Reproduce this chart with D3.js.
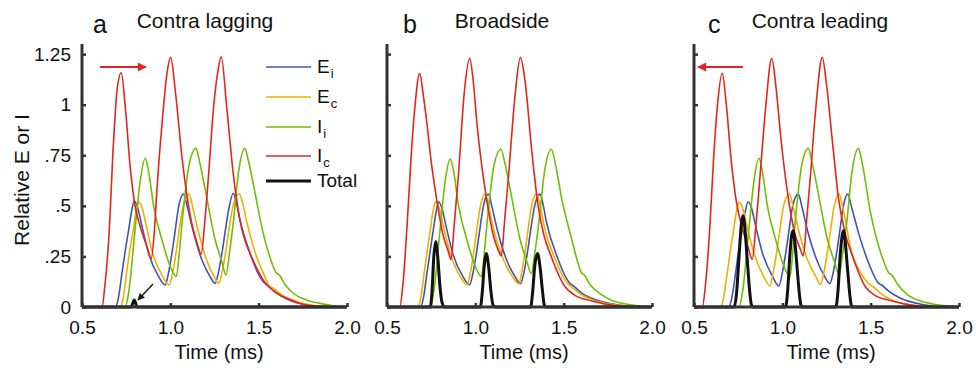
<!DOCTYPE html>
<html>
<head>
<meta charset="utf-8">
<script src="https://cdn.jsdelivr.net/npm/d3@7"></script>
<style>
  body { margin: 0; background: #fff; }
  text { font-family: "Liberation Sans", Arial, sans-serif; fill: #111; }
</style>
</head>
<body>
<script>
// ---- data: [time (ms), relative value] ----

// a  Contra lagging
const ei_a = [[0.5,0],[0.689,0],[0.705,0.04],[0.726,0.166],[0.745,0.28],[0.764,0.38],[0.78,0.47],[0.796,0.525],[0.815,0.49],[0.84,0.397],[0.877,0.265],[0.934,0.15],[0.971,0.109],[0.99,0.17],[1.009,0.265],[1.028,0.38],[1.047,0.496],[1.075,0.558],[1.095,0.5],[1.123,0.397],[1.179,0.232],[1.225,0.15],[1.254,0.117],[1.272,0.17],[1.292,0.265],[1.31,0.37],[1.33,0.48],[1.356,0.562],[1.375,0.51],[1.394,0.43],[1.451,0.266],[1.5,0.16],[1.526,0.125],[1.545,0.11],[1.6,0.07],[1.658,0.04],[1.77,0.01],[1.9,0.001],[2.0,0]];
const ec_a = [[0.5,0],[0.717,0],[0.732,0.04],[0.752,0.166],[0.77,0.28],[0.79,0.38],[0.805,0.47],[0.821,0.52],[0.84,0.49],[0.865,0.397],[0.9,0.265],[0.957,0.15],[0.994,0.109],[1.013,0.17],[1.032,0.265],[1.05,0.38],[1.072,0.496],[1.107,0.558],[1.125,0.5],[1.152,0.397],[1.205,0.232],[1.248,0.15],[1.274,0.117],[1.292,0.17],[1.312,0.265],[1.33,0.37],[1.35,0.48],[1.39,0.56],[1.41,0.51],[1.43,0.43],[1.48,0.27],[1.53,0.16],[1.564,0.1],[1.58,0.095],[1.63,0.06],[1.68,0.04],[1.78,0.012],[1.9,0.001],[2.0,0]];
const ii_a = [[0.5,0],[0.745,0],[0.76,0.05],[0.773,0.13],[0.79,0.29],[0.802,0.397],[0.83,0.627],[0.858,0.735],[0.875,0.68],[0.906,0.496],[0.953,0.33],[1.0,0.2],[1.034,0.15],[1.05,0.26],[1.066,0.413],[1.085,0.57],[1.104,0.693],[1.145,0.784],[1.165,0.72],[1.198,0.578],[1.254,0.331],[1.292,0.224],[1.315,0.158],[1.335,0.27],[1.356,0.413],[1.385,0.66],[1.422,0.784],[1.44,0.73],[1.469,0.61],[1.526,0.364],[1.57,0.23],[1.602,0.166],[1.615,0.16],[1.65,0.11],[1.696,0.068],[1.77,0.035],[1.847,0.018],[1.93,0.005],[2.0,0]];
const ic_a = [[0.5,0],[0.613,0],[0.63,0.11],[0.651,0.33],[0.679,0.825],[0.698,1.07],[0.722,1.158],[0.745,0.99],[0.773,0.69],[0.8,0.5],[0.83,0.397],[0.868,0.298],[0.892,0.24],[0.91,0.38],[0.924,0.578],[0.953,0.907],[0.981,1.155],[1.002,1.234],[1.028,1.07],[1.066,0.74],[1.104,0.495],[1.151,0.315],[1.175,0.262],[1.195,0.42],[1.217,0.66],[1.245,0.99],[1.27,1.17],[1.288,1.237],[1.319,0.99],[1.356,0.66],[1.394,0.43],[1.43,0.31],[1.451,0.265],[1.526,0.133],[1.6,0.07],[1.658,0.043],[1.77,0.01],[1.9,0],[2.0,0]];
const tot_a = [[0.5,0],[0.778,0],[0.796,0.035],[0.812,0],[2.0,0]];

// b  Broadside
const ei_b = [[0.5,0],[0.69,0],[0.705,0.04],[0.726,0.166],[0.745,0.28],[0.762,0.38],[0.778,0.47],[0.792,0.52],[0.81,0.49],[0.835,0.397],[0.872,0.265],[0.93,0.15],[0.968,0.11],[0.987,0.17],[1.006,0.265],[1.025,0.38],[1.045,0.496],[1.074,0.558],[1.093,0.5],[1.12,0.397],[1.177,0.232],[1.225,0.15],[1.255,0.115],[1.275,0.17],[1.294,0.265],[1.313,0.38],[1.335,0.496],[1.366,0.558],[1.385,0.5],[1.4,0.43],[1.47,0.232],[1.51,0.15],[1.536,0.117],[1.555,0.105],[1.6,0.07],[1.659,0.043],[1.81,0.01],[1.92,0.001],[2.0,0]];
const ec_b = [[0.5,0],[0.675,0],[0.69,0.04],[0.71,0.166],[0.728,0.28],[0.745,0.38],[0.76,0.47],[0.775,0.52],[0.795,0.49],[0.82,0.397],[0.858,0.265],[0.915,0.15],[0.955,0.11],[0.972,0.17],[0.99,0.265],[1.008,0.38],[1.028,0.496],[1.055,0.558],[1.075,0.5],[1.1,0.397],[1.16,0.232],[1.21,0.15],[1.246,0.115],[1.262,0.17],[1.28,0.265],[1.298,0.38],[1.318,0.496],[1.347,0.558],[1.367,0.5],[1.39,0.4],[1.46,0.22],[1.5,0.145],[1.528,0.112],[1.545,0.1],[1.59,0.066],[1.65,0.04],[1.8,0.009],[1.92,0.001],[2.0,0]];
const ii_b = [[0.5,0],[0.745,0],[0.76,0.05],[0.773,0.13],[0.79,0.29],[0.802,0.397],[0.83,0.627],[0.858,0.731],[0.875,0.68],[0.906,0.496],[0.953,0.33],[1.0,0.2],[1.034,0.15],[1.05,0.26],[1.066,0.413],[1.085,0.57],[1.104,0.693],[1.145,0.78],[1.165,0.72],[1.198,0.578],[1.254,0.331],[1.292,0.224],[1.317,0.166],[1.337,0.27],[1.36,0.42],[1.39,0.66],[1.431,0.78],[1.45,0.72],[1.49,0.53],[1.547,0.33],[1.58,0.22],[1.603,0.166],[1.615,0.16],[1.65,0.11],[1.716,0.06],[1.78,0.03],[1.85,0.015],[1.95,0.003],[2.0,0]];
const ic_b = [[0.5,0],[0.572,0],[0.59,0.11],[0.62,0.496],[0.64,0.79],[0.658,0.99],[0.685,1.155],[0.705,1.05],[0.726,0.907],[0.75,0.72],[0.773,0.578],[0.82,0.347],[0.845,0.28],[0.863,0.235],[0.88,0.4],[0.905,0.66],[0.937,1.056],[0.968,1.229],[0.99,1.1],[1.009,0.907],[1.056,0.578],[1.104,0.347],[1.13,0.28],[1.147,0.252],[1.165,0.42],[1.189,0.66],[1.226,1.056],[1.255,1.234],[1.281,1.12],[1.319,0.776],[1.356,0.496],[1.39,0.35],[1.423,0.265],[1.508,0.1],[1.56,0.06],[1.659,0.03],[1.81,0.005],[1.9,0],[2.0,0]];
const tot_b = [[0.5,0],[0.745,0],[0.755,0.08],[0.765,0.25],[0.776,0.323],[0.787,0.25],[0.8,0.1],[0.812,0.02],[0.825,0],[1.028,0],[1.04,0.08],[1.05,0.2],[1.062,0.265],[1.075,0.2],[1.088,0.08],[1.1,0.01],[1.113,0],[1.313,0],[1.325,0.08],[1.336,0.2],[1.352,0.265],[1.366,0.2],[1.38,0.08],[1.39,0.01],[1.398,0],[2.0,0]];

// c  Contra leading
const ei_c = [[0.5,0],[0.698,0],[0.713,0.04],[0.735,0.166],[0.753,0.28],[0.772,0.38],[0.79,0.47],[0.806,0.52],[0.825,0.49],[0.85,0.397],[0.888,0.265],[0.945,0.15],[0.981,0.104],[1.0,0.17],[1.019,0.265],[1.038,0.38],[1.058,0.496],[1.09,0.558],[1.11,0.5],[1.137,0.397],[1.195,0.232],[1.24,0.15],[1.269,0.115],[1.288,0.17],[1.307,0.265],[1.326,0.38],[1.345,0.496],[1.371,0.558],[1.39,0.5],[1.432,0.364],[1.489,0.216],[1.545,0.117],[1.56,0.11],[1.6,0.08],[1.658,0.048],[1.81,0.01],[1.92,0.001],[2.0,0]];
const ec_c = [[0.5,0],[0.651,0],[0.666,0.04],[0.688,0.166],[0.706,0.28],[0.724,0.38],[0.74,0.47],[0.755,0.517],[0.775,0.49],[0.8,0.397],[0.84,0.265],[0.895,0.15],[0.93,0.104],[0.948,0.17],[0.967,0.265],[0.986,0.38],[1.006,0.496],[1.041,0.558],[1.06,0.5],[1.087,0.397],[1.143,0.232],[1.19,0.15],[1.216,0.112],[1.235,0.17],[1.254,0.265],[1.273,0.38],[1.293,0.496],[1.322,0.558],[1.34,0.5],[1.394,0.265],[1.45,0.16],[1.498,0.109],[1.515,0.1],[1.56,0.065],[1.62,0.035],[1.77,0.005],[1.9,0],[2.0,0]];
const ii_c = [[0.5,0],[0.755,0],[0.77,0.05],[0.783,0.13],[0.8,0.29],[0.812,0.397],[0.84,0.627],[0.868,0.735],[0.885,0.68],[0.916,0.496],[0.963,0.33],[1.01,0.2],[1.043,0.147],[1.058,0.26],[1.072,0.413],[1.09,0.57],[1.108,0.693],[1.147,0.784],[1.167,0.72],[1.2,0.578],[1.256,0.331],[1.295,0.224],[1.322,0.158],[1.342,0.27],[1.364,0.413],[1.393,0.66],[1.431,0.784],[1.45,0.72],[1.5,0.463],[1.558,0.265],[1.605,0.166],[1.618,0.16],[1.65,0.115],[1.71,0.06],[1.78,0.03],[1.85,0.015],[1.95,0.003],[2.0,0]];
const ic_c = [[0.5,0],[0.547,0],[0.565,0.11],[0.59,0.4],[0.61,0.72],[0.633,1.0],[0.66,1.155],[0.683,1.0],[0.71,0.73],[0.74,0.52],[0.77,0.4],[0.805,0.3],[0.83,0.235],[0.85,0.4],[0.875,0.66],[0.907,1.0],[0.94,1.229],[0.965,1.08],[0.99,0.85],[1.03,0.56],[1.075,0.35],[1.1,0.29],[1.119,0.252],[1.137,0.42],[1.16,0.66],[1.19,0.99],[1.226,1.234],[1.25,1.1],[1.281,0.84],[1.319,0.53],[1.36,0.35],[1.395,0.257],[1.47,0.1],[1.52,0.06],[1.62,0.03],[1.77,0.005],[1.9,0],[2.0,0]];
const tot_c = [[0.5,0],[0.727,0],[0.74,0.06],[0.755,0.25],[0.768,0.41],[0.777,0.451],[0.787,0.4],[0.8,0.25],[0.815,0.08],[0.825,0.01],[0.833,0],[1.018,0],[1.03,0.08],[1.042,0.25],[1.052,0.35],[1.06,0.377],[1.07,0.33],[1.083,0.2],[1.097,0.06],[1.105,0.01],[1.112,0],[1.303,0],[1.315,0.08],[1.327,0.25],[1.338,0.35],[1.345,0.377],[1.355,0.33],[1.368,0.2],[1.382,0.06],[1.39,0.01],[1.394,0],[2.0,0]];

// labels
const letters = ["a", "b", "c"];
const titles = ["Contra lagging", "Broadside", "Contra leading"];
const xTicks = [0.5, 1.0, 1.5, 2.0];
const yTicks = [0, 0.25, 0.5, 0.75, 1, 1.25];
const yTickLabels = ["0", ".25", ".5", ".75", "1", "1.25"];
const seriesNames = [["E", "i"], ["E", "c"], ["I", "i"], ["I", "c"], ["Total", ""]];
const colors = ["#4352b3", "#f0b000", "#70bf00", "#e2261f", "#111111"];

const panelData = [
  [ei_a, ec_a, ii_a, ic_a, tot_a],
  [ei_b, ec_b, ii_b, ic_b, tot_b],
  [ei_c, ec_c, ii_c, ic_c, tot_c]
];

// ---- layout ----
const W = 976, H = 371;
const lefts = [82, 387, 694];
const pw = 265;
const plotTop = 44, plotBottom = 307;
const axisCol = "#333";

const svg = d3.select("body").append("svg").attr("width", W).attr("height", H);

const y = d3.scaleLinear().domain([0, 1.3]).range([plotBottom, plotTop]);

// arrow markers
const defs = svg.append("defs");
defs.append("marker")
  .attr("id", "headRed")
  .attr("viewBox", "0 0 10 10")
  .attr("refX", 9).attr("refY", 5)
  .attr("markerWidth", 13).attr("markerHeight", 9)
  .attr("markerUnits", "userSpaceOnUse")
  .attr("orient", "auto")
  .append("path").attr("d", "M0,0 L10,5 L0,10 Z").attr("fill", "#e2261f");
defs.append("marker")
  .attr("id", "headBlack")
  .attr("viewBox", "0 0 10 10")
  .attr("refX", 9).attr("refY", 5)
  .attr("markerWidth", 8).attr("markerHeight", 7)
  .attr("markerUnits", "userSpaceOnUse")
  .attr("orient", "auto")
  .append("path").attr("d", "M0,0 L10,5 L0,10 Z").attr("fill", "#111");

panelData.forEach((series, p) => {
  const x0 = lefts[p];
  const x = d3.scaleLinear().domain([0.5, 2.0]).range([x0, x0 + pw]);
  const g = svg.append("g");

  const line = d3.line()
    .x((d) => x(d[0]))
    .y((d) => y(d[1]))
    .curve(d3.curveMonotoneX);

  series.forEach((s, i) => {
    g.append("path")
      .datum(s)
      .attr("d", line)
      .attr("fill", "none")
      .attr("stroke", colors[i])
      .attr("stroke-width", i === 4 ? 3 : 1.6)
      .attr("stroke-linejoin", "round");
  });

  // axes
  const xAxis = d3.axisBottom(x).tickValues(xTicks).tickSize(-4).tickFormat(d3.format(".1f")).tickPadding(14);
  const yAxis = d3.axisLeft(y).tickValues(yTicks).tickSize(-4).tickPadding(11)
    .tickFormat((d, i) => (p === 0 ? yTickLabels[i] : ""));

  const gx = g.append("g").attr("transform", `translate(0,${plotBottom})`).call(xAxis);
  const gy = g.append("g").attr("transform", `translate(${x0},0)`).call(yAxis);

  gx.select(".domain").attr("d", `M${x0},0H${x0 + pw}`);
  gy.select(".domain").attr("d", `M0,${plotBottom}V${plotTop}`);
  [gx, gy].forEach((ax) => {
    ax.select(".domain").attr("stroke", axisCol).attr("stroke-width", 3);
    ax.selectAll(".tick line").attr("stroke", axisCol).attr("stroke-width", 2.5);
    ax.selectAll(".tick text")
      .attr("fill", "#111")
      .style("font-size", "19px")
      .style("font-family", '"Liberation Sans", Arial, sans-serif');
  });

  g.append("text")
    .attr("x", x0 + 137).attr("y", 359)
    .attr("text-anchor", "middle")
    .style("font-size", "20px")
    .text("Time (ms)");

  g.append("text")
    .attr("x", x0 + [11, 16, 14][p]).attr("y", 33)
    .style("font-size", "25px")
    .text(letters[p]);

  g.append("text")
    .attr("x", x0 + [123, 115, 126][p]).attr("y", 28)
    .attr("text-anchor", "middle")
    .style("font-size", "21px")
    .text(titles[p]);
});

// y axis label
svg.append("text")
  .attr("transform", "translate(29,180) rotate(-90)")
  .attr("text-anchor", "middle")
  .style("font-size", "21px")
  .text("Relative E or I");

// legend
const legY = [67, 97, 127, 156, 181];
const leg = svg.append("g");
seriesNames.forEach((nm, i) => {
  leg.append("line")
    .attr("x1", 266).attr("x2", 311)
    .attr("y1", legY[i]).attr("y2", legY[i])
    .attr("stroke", colors[i])
    .attr("stroke-width", i === 4 ? 3 : 1.6);
  const t = leg.append("text")
    .attr("x", 317).attr("y", legY[i] + 6)
    .style("font-size", "19px");
  t.append("tspan").text(nm[0]);
  if (nm[1]) {
    t.append("tspan").attr("dy", 5).attr("dx", 1).style("font-size", "13px").text(nm[1]);
  }
});

// direction arrows
svg.append("line")
  .attr("x1", 100).attr("y1", 67).attr("x2", 146).attr("y2", 67)
  .attr("stroke", "#e2261f").attr("stroke-width", 2.2)
  .attr("marker-end", "url(#headRed)");
svg.append("line")
  .attr("x1", 743).attr("y1", 67).attr("x2", 698).attr("y2", 67)
  .attr("stroke", "#e2261f").attr("stroke-width", 2.2)
  .attr("marker-end", "url(#headRed)");
svg.append("line")
  .attr("x1", 153).attr("y1", 284).attr("x2", 138).attr("y2", 300)
  .attr("stroke", "#111").attr("stroke-width", 1.2)
  .attr("marker-end", "url(#headBlack)");
</script>
</body>
</html>
